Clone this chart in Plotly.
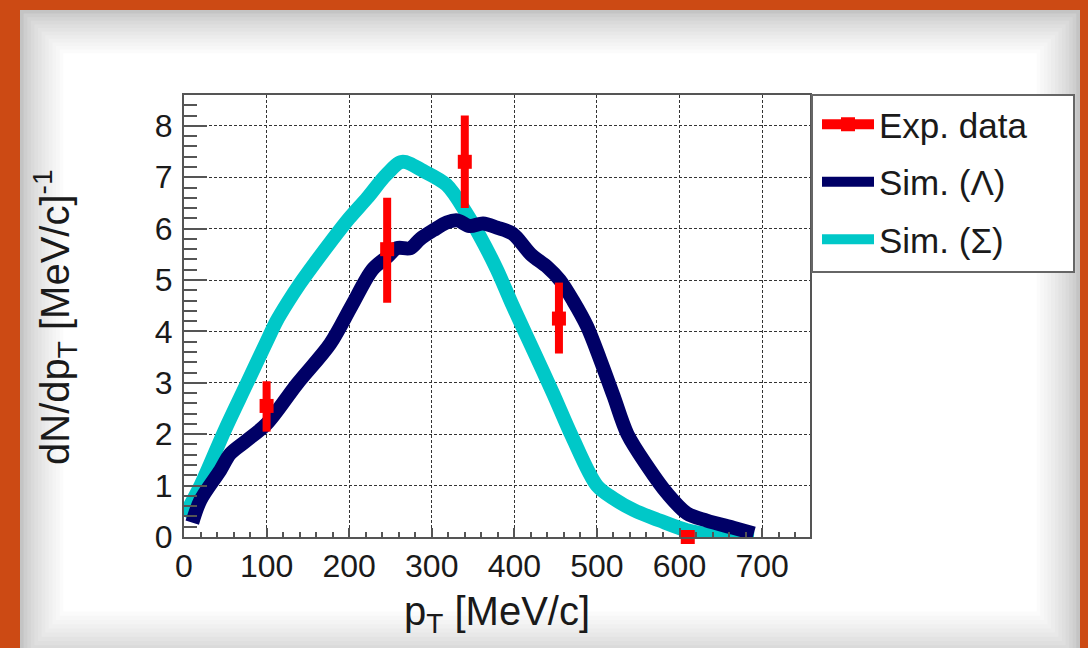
import plotly.graph_objects as go

# ---------------- data ----------------
lam_x = [10, 20, 44, 56, 76, 100, 137, 177, 203, 228, 246, 258, 274, 286, 302, 318, 331, 346,
         362, 379, 398, 420, 440, 455, 471, 488, 504, 520, 537, 561, 585, 609, 633, 665, 690]
lam_y = [0.28, 0.72, 1.3, 1.62, 1.88, 2.2, 2.98, 3.76, 4.5, 5.2, 5.45, 5.62, 5.62, 5.8, 5.97, 6.12,
         6.16, 6.05, 6.1, 6.02, 5.9, 5.5, 5.25, 5.0, 4.6, 4.1, 3.45, 2.75, 2.0, 1.38, 0.85, 0.46,
         0.32, 0.18, 0.07]

sig_x = [0, 20, 50, 75, 100, 112, 125, 140, 157, 178, 200, 222, 245, 264, 290, 318, 342, 358,
         379, 398, 423, 447, 470, 500, 520, 545, 576, 609, 645, 690]
sig_y = [0.4, 1.0, 2.1, 2.95, 3.8, 4.2, 4.55, 4.92, 5.3, 5.75, 6.2, 6.6, 7.05, 7.3, 7.12, 6.85,
         6.3, 5.86, 5.2, 4.5, 3.63, 2.79, 1.95, 1.0, 0.75, 0.52, 0.32, 0.13, 0.03, -0.03]

exp_x = [100, 246, 340, 454, 610]
exp_y = [2.55, 5.6, 7.3, 4.25, 0.0]
exp_err_plus = [0.48, 1.0, 0.9, 0.7, 0.0]
exp_err_minus = [0.5, 1.04, 0.9, 0.68, 0.0]

x_ticks = [0, 100, 200, 300, 400, 500, 600, 700]
y_ticks = [0, 1, 2, 3, 4, 5, 6, 7, 8]

# ---------------- layout geometry (pixels) ----------------
W, H = 1088, 648
L, R, T, B = 184, 810, 95, 537
PW, PH = R - L, B - T


def px(xp):
    return (xp - L) / PW


def py(yp):
    return (B - yp) / PH


FONT = "Liberation Sans, Arial, Helvetica, sans-serif"
TXT = "#1a1a1a"

fig = go.Figure()

# cyan (Sigma) first, navy on top, red data on top
fig.add_trace(go.Scatter(
    x=sig_x, y=sig_y, mode="lines", name="Sim. (Σ)",
    line=dict(color="#00c8c8", width=14, shape="spline", smoothing=0.9),
    legendrank=3, legendgroup="c"))
fig.add_trace(go.Scatter(
    x=lam_x, y=lam_y, mode="lines", name="Sim. (Λ)",
    line=dict(color="#000066", width=14, shape="spline", smoothing=0.9),
    legendrank=2, legendgroup="b"))

# experimental points: separate with None so no connecting line is drawn
ex, ey, ep, em = [], [], [], []
for a, b, c, d in zip(exp_x, exp_y, exp_err_plus, exp_err_minus):
    ex += [a, None]
    ey += [b, None]
    ep += [c, None]
    em += [d, None]
fig.add_trace(go.Scatter(
    x=ex, y=ey, mode="lines+markers", name="Exp. data", connectgaps=False,
    cliponaxis=False,
    line=dict(color="#ff0000", width=10),
    marker=dict(symbol="square", size=14, color="#ff0000"),
    error_y=dict(type="data", array=ep, arrayminus=em, color="#ff0000",
                 thickness=8, width=0),
    legendrank=1, legendgroup="a"))

# ---------------- background panel (vignette) ----------------
shapes = []
n = 13
for i in range(n):
    c = int(196 + (255 - 196) * (i / (n - 1)) ** 0.7)
    col = f"rgb({c},{c},{c})"
    x0, y0 = 20 + 3.6 * i, 10 + 3.6 * i
    x1, y1 = 1080 - 3.6 * i, 662 - 4.2 * i
    shapes.append(dict(type="rect", xref="paper", yref="paper", layer="below",
                       x0=px(x0), x1=px(x1), y0=py(y1), y1=py(y0),
                       fillcolor=col, line=dict(width=0)))
# legend box
shapes.append(dict(type="rect", xref="paper", yref="paper", layer="above",
                   x0=px(812), x1=px(1074), y0=py(272), y1=py(95),
                   fillcolor="white", line=dict(color="#666666", width=2)))

annotations = [
    dict(text="p<sub>T</sub> [MeV/c]", xref="paper", yref="paper",
         x=px(497), y=py(614), xanchor="center", yanchor="middle", showarrow=False,
         font=dict(family=FONT, size=40, color=TXT)),
    dict(text="dN/dp<sub>T</sub> [MeV/c]<sup>-1</sup>", xref="paper", yref="paper",
         x=px(55), y=py(318), xanchor="center", yanchor="middle", showarrow=False,
         textangle=-90, font=dict(family=FONT, size=40, color=TXT)),
]

axis_common = dict(
    showline=True, linecolor="#555555", linewidth=2, mirror=True,
    showgrid=True, gridcolor="#333333", gridwidth=1, griddash="3px,2px",
    zeroline=False, ticks="inside", tickcolor="#555555", tickwidth=2,
    tickfont=dict(family=FONT, size=32, color=TXT),
)

fig.update_layout(
    width=W, height=H,
    margin=dict(l=L, r=W - R, t=T, b=H - B, autoexpand=False),
    paper_bgcolor="#cc4a14",
    plot_bgcolor="white",
    shapes=shapes,
    annotations=annotations,
    showlegend=True,
    legend=dict(x=px(817), y=py(95), xanchor="left", yanchor="top",
                bgcolor="rgba(0,0,0,0)", borderwidth=0, itemwidth=52,
                font=dict(family=FONT, size=35, color=TXT),
                tracegroupgap=9, traceorder="grouped"),
    xaxis=dict(range=[0, 758], tickvals=x_ticks, ticklen=9, ticklabelstandoff=0,
               minor=dict(dtick=20, ticks="inside", ticklen=5, tickcolor="#555555",
                          tickwidth=2, showgrid=False),
               **axis_common),
    yaxis=dict(range=[0, 8.6], tickvals=y_ticks, ticklen=23, ticklabelstandoff=3,
               minor=dict(dtick=0.2, ticks="inside", ticklen=13, tickcolor="#555555",
                          tickwidth=2, showgrid=False),
               **axis_common),
)

fig.write_html("out.html")
